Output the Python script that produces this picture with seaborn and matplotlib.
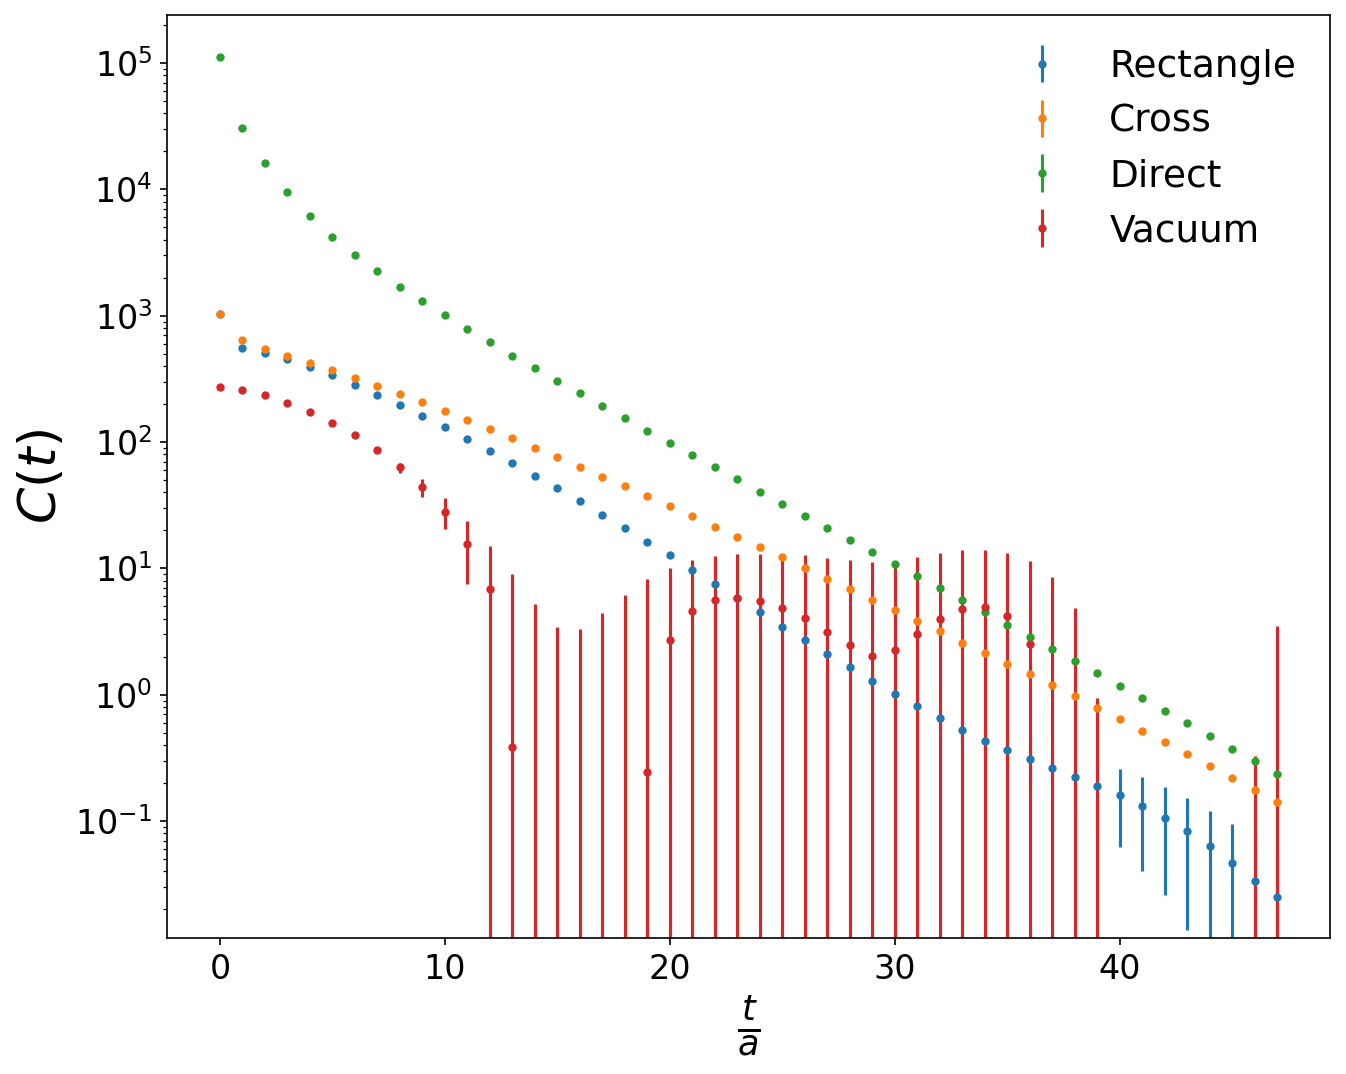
import numpy as np
import seaborn as sns
import matplotlib
matplotlib.use("Agg")
import matplotlib.pyplot as plt

nan = np.nan

# time slices t/a
t = list(range(48))

# Rectangle diagram
rect = [1030, 555, 503, 452, 395, 337, 284, 237, 196, 161,
        131, 106, 85, 67.8, 54, 43, 33.9, 26.6, 20.8, 16.2,
        12.7, 9.75, 7.55, 5.85, 4.49, 3.45, 2.69, 2.1, 1.65, 1.29,
        1.02, 0.81, 0.65, 0.528, 0.433, 0.363, 0.308, 0.263, 0.224, 0.191,
        0.16, 0.131, 0.106, 0.0828, 0.063, 0.0465, 0.0335, 0.0252]
rect_err = [2.0, 1.5, 1.2, 1.0, 0.9, 0.8, 0.7, 0.6, 0.5, 0.45,
            0.4, 0.35, 0.3, 0.28, 0.25, 0.22, 0.2, 0.18, 0.16, 0.15,
            0.14, 0.13, 0.12, 0.12, 0.12, 0.12, 0.12, 0.12, 0.12, 0.12,
            0.12, 0.12, 0.12, 0.12, 0.124, 0.116, 0.117, 0.1, 0.11, 0.113,
            0.098, 0.091, 0.08, 0.069, 0.058, 0.049, 0.042, 0.034]

# Cross diagram
cross = [1030, 645, 547, 479, 421, 371, 323, 279, 241, 206,
         176, 150, 127, 107, 90, 76, 63.7, 53, 44.6, 37.1,
         31, 25.8, 21.4, 17.8, 14.8, 12.2, 10.1, 8.3, 6.86, 5.65,
         4.65, 3.83, 3.17, 2.59, 2.14, 1.76, 1.45, 1.19, 0.97, 0.79,
         0.638, 0.519, 0.42, 0.337, 0.272, 0.22, 0.176, 0.141]
cross_err = [8, 5, 4, 3.5, 3, 2.6, 2.2, 1.9, 1.6, 1.4,
             1.2, 1.0, 0.9, 0.8, 0.7, 0.6, 0.5, 0.45, 0.4, 0.35,
             0.3, 0.28, 0.25, 0.22, 0.2, 0.18, 0.16, 0.14, 0.12, 0.1,
             0.09, 0.08, 0.07, 0.06, 0.05, 0.045, 0.04, 0.035, 0.03, 0.026,
             0.022, 0.019, 0.016, 0.014, 0.012, 0.01, 0.009, 0.008]

# Direct diagram
direct = [1.11e5, 3.05e4, 1.61e4, 9.5e3, 6.15e3, 4.2e3, 3.02e3, 2.26e3, 1.69e3, 1.31e3,
          1010, 783, 617, 479, 385, 304, 245, 193, 155, 122,
          98, 79, 63.5, 51, 40, 32.3, 26.1, 20.8, 16.7, 13.5,
          10.8, 8.7, 7.0, 5.58, 4.49, 3.58, 2.88, 2.31, 1.85, 1.48,
          1.18, 0.935, 0.743, 0.593, 0.471, 0.374, 0.297, 0.234]
direct_err = [300, 90, 50, 30, 20, 14, 10, 7, 5, 4,
              3, 2.5, 2, 1.6, 1.3, 1.0, 0.8, 0.65, 0.5, 0.4,
              0.33, 0.27, 0.22, 0.18, 0.15, 0.12, 0.1, 0.08, 0.065, 0.055,
              0.045, 0.037, 0.03, 0.025, 0.02, 0.017, 0.014, 0.012, 0.01, 0.008,
              0.007, 0.006, 0.005, 0.004, 0.0035, 0.003, 0.0025, 0.002]

# Vacuum diagram (negative values fall off the log axis)
vac = [272, 258, 234, 205, 173, 141, 113, 86, 63, 44,
       28.2, 15.7, 6.9, 0.387, -3.0, -5.0, -5.0, -4.0, -2.0, 0.244,
       2.71, 4.59, 5.61, 5.82, 5.48, 4.88, 4.02, 3.15, 2.47, 2.01,
       2.27, 3.03, 3.95, 4.79, 4.91, 4.17, 2.5, -0.5, -4.0, -8.0,
       nan, nan, nan, nan, nan, nan, -8.6, -5.0]
vac_err = [4, 3.5, 3.2, 3, 2.8, 2.6, 2.8, 3.5, 5.8, 7.0,
           7.8, 8.2, 8.2, 8.7, 8.25, 8.41, 8.29, 8.41, 8.19, 8.0,
           7.4, 7.0, 7.0, 7.1, 7.45, 7.3, 8.8, 9.0, 9.1, 9.2,
           9.0, 9.3, 9.35, 9.2, 9.1, 9.1, 8.9, 9.05, 8.83, 8.95,
           nan, nan, nan, nan, nan, nan, 8.93, 8.51]

labels = ["Rectangle", "Cross", "Direct", "Vacuum"]
series = [(rect, rect_err), (cross, cross_err), (direct, direct_err), (vac, vac_err)]

colors = sns.color_palette("tab10", 4)

fig, ax = plt.subplots(figsize=(1346 / 150, 1074 / 150), dpi=150)
fig.subplots_adjust(left=0.1241, right=0.9881, bottom=0.1266, top=0.986)

for (vals, errs), lab, col in zip(series, labels, colors):
    ax.errorbar(t, vals, yerr=errs, fmt=".", color=col, label=lab)

ax.set_yscale("log")
ax.set_ylim(0.01186, 2.4e5)
ax.set_xlim(-2.35, 49.35)

ax.set_xlabel(r"$\frac{t}{a}$", fontsize=24)
ax.set_ylabel(r"$C(t)$", fontsize=25)
ax.tick_params(labelsize=16)
ax.legend(loc="upper right", frameon=False, fontsize=18)

fig.savefig("out.png", dpi=150)
